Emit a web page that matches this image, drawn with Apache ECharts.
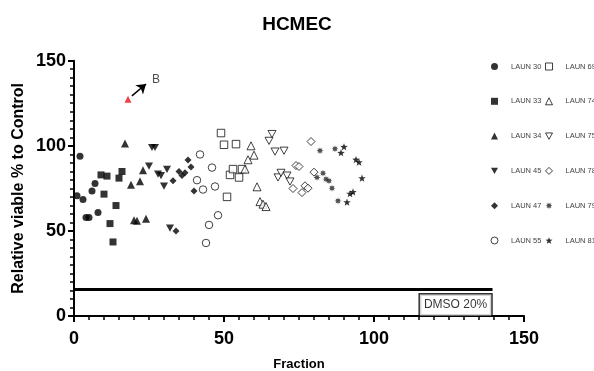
<!DOCTYPE html>
<html>
<head>
<meta charset="utf-8">
<title>HCMEC</title>
<script src="https://cdn.jsdelivr.net/npm/echarts@6/dist/echarts.min.js"></script>
<style>
    html, body { margin: 0; padding: 0; background: #fff; }
    #echarts1 { width: 594px; height: 371px; }
</style>
</head>
<body>
<div id="echarts1"></div>
<script>
// ------------------------------ 数据 -----------------------------------------
var seriesNames = ['LAUN 30', 'LAUN 33', 'LAUN 34', 'LAUN 45', 'LAUN 47', 'LAUN 55',
                   'LAUN 69', 'LAUN 74', 'LAUN 75', 'LAUN 78', 'LAUN 79', 'LAUN 81'];

var laun30 = [[1, 70.6], [2, 93.9], [3, 68.4], [4, 57.8], [5, 57.8], [6, 73.4], [7, 77.8], [8, 60.8]];
var laun33 = [[9, 82.9], [10, 71.6], [11, 82.2], [12, 54.3], [13, 43.5], [14, 64.9], [15, 81], [16, 84.9]];
var laun34 = [[17, 101.4], [19, 77.1], [20, 56.3], [21, 55.9], [22, 79.2], [23, 85.7], [24, 57.2]];
var laun45 = [[25, 88.1], [26, 99], [27, 99], [28, 83.4], [29, 82.5], [30, 76.3], [31, 86.1], [32, 51.6]];
var laun47 = [[33, 79.4], [34, 50], [35, 84.9], [36, 82.5], [37, 84.1], [38, 91.6], [39, 87.5], [40, 73.4]];
var laun55 = [[41, 79.8], [42, 94.9], [43, 74.3], [44, 42.9], [45, 53.5], [46, 87.2], [47, 76.1], [48, 59.2]];
var laun69 = [[49, 107.5], [50, 100.6], [51, 70], [52, 82.9], [53, 86.3], [54, 101], [55, 81.4], [56, 86.3]];
var laun74 = [[57, 86.3], [58, 91.8], [59, 100], [60, 94.5], [61, 75.9], [62, 67.2], [63, 65.7], [64, 64.3]];
var laun75 = [[65, 102.9], [66, 106.9], [67, 96.6], [68, 81.4], [69, 84.1], [70, 97.1], [71, 82.5], [72, 79]];
var laun78 = [[73, 74.9], [74, 88.4], [75, 87.8], [76, 72.5], [77, 76.5], [78, 75.1], [79, 102.5], [80, 84.5]];
var laun79 = [[81, 81.4], [82, 97.1], [83, 83.9], [84, 80.4], [85, 79.4], [86, 75.1], [87, 98.2], [88, 67.6]];
var laun81 = [[89, 95.9], [90, 99.4], [91, 66.9], [92, 71.9], [93, 72.9], [94, 91.9], [95, 90.4], [96, 81]];

// 标注点 B (LAUN 34 第18组分)
var pointB = [[18, 127.3]];
var arrowFrom = [19.3, 129.3];
var arrowTo = [24, 136.3];
var labelB = [[27.3, 138.7]];

// DMSO 20% 参考线
var dmsoLine = [[0, 15.5], [139.5, 15.5]];
var dmsoLabel = [[127.2, 6.5]];

var xTicks = [0, 150, 50];   // min, max, interval
var yTicks = [0, 150, 50];

// ------------------------------ 符号 -----------------------------------------
function starPath(points, inner) {
    var d = '';
    for (var i = 0; i < points * 2; i++) {
        var r = (i % 2 === 0) ? 1 : inner;
        var a = Math.PI * i / points - Math.PI / 2;
        d += (i === 0 ? 'M' : 'L') + (r * Math.cos(a)).toFixed(3) + ',' + (r * Math.sin(a)).toFixed(3);
    }
    return 'path://' + d + 'Z';
}
var downTriangle = 'path://M0,0L2,0L1,1.8Z';

var FONT = 'Liberation Sans, Arial, sans-serif';
var openStyle = { color: '#fff', borderColor: '#111', borderWidth: 1 };
var fillStyle = { color: '#000' };

var symbolDefs = [
    { data: laun30, symbol: 'circle', size: 7, style: fillStyle },
    { data: laun33, symbol: 'rect', size: 7, style: fillStyle },
    { data: laun34, symbol: 'triangle', size: 8, style: fillStyle },
    { data: laun45, symbol: downTriangle, size: 8, style: fillStyle },
    { data: laun47, symbol: 'diamond', size: 7, style: fillStyle },
    { data: laun55, symbol: 'circle', size: 7.5, style: openStyle },
    { data: laun69, symbol: 'rect', size: 7.5, style: openStyle },
    { data: laun74, symbol: 'triangle', size: 8, style: openStyle },
    { data: laun75, symbol: downTriangle, size: 8, style: openStyle },
    { data: laun78, symbol: 'diamond', size: 8, style: openStyle },
    { data: laun79, symbol: starPath(8, 0.5), size: 7, style: { color: '#222' } },
    { data: laun81, symbol: starPath(5, 0.42), size: 7.5, style: fillStyle }
];

var series = [];
symbolDefs.forEach(function (d, i) {
    series.push({
        name: seriesNames[i],
        type: 'scatter',
        data: d.data,
        symbol: d.symbol,
        symbolSize: d.size,
        symbolKeepAspect: true,
        itemStyle: d.style,
        z: 3
    });
});

// DMSO 线
series.push({
    name: 'DMSO',
    type: 'line',
    data: dmsoLine,
    symbol: 'none',
    silent: true,
    lineStyle: { color: '#000', width: 3 },
    z: 2
});
// DMSO 标签框
series.push({
    name: 'DMSO label',
    type: 'scatter',
    data: dmsoLabel,
    symbolSize: 0,
    silent: true,
    label: {
        show: true,
        position: 'inside',
        formatter: 'DMSO 20%',
        fontFamily: FONT,
        fontSize: 12,
        color: '#000',
        backgroundColor: '#fff',
        borderColor: '#000',
        borderWidth: 1.5,
        padding: [5, 4, 4, 4]
    },
    z: 4
});
// 红色点 B 及箭头
series.push({
    name: 'B',
    type: 'scatter',
    data: pointB,
    symbol: 'triangle',
    symbolSize: 7,
    itemStyle: { color: '#e8141a' },
    silent: true,
    markLine: {
        silent: true,
        symbol: ['none', 'arrow'],
        symbolSize: 9,
        label: { show: false },
        lineStyle: { color: '#000', width: 1.5, type: 'solid' },
        data: [[{ coord: arrowFrom }, { coord: arrowTo }]]
    },
    z: 4
});
series.push({
    name: 'B label',
    type: 'scatter',
    data: labelB,
    symbolSize: 0,
    silent: true,
    label: {
        show: true,
        position: 'inside',
        formatter: 'B',
        fontFamily: FONT,
        fontSize: 12,
        color: '#222'
    }
});

// ------------------------------ 图表 -----------------------------------------
var chartDom = document.getElementById('echarts1');
var myChart = echarts.init(chartDom);
var option;

var legendCommon = {
    orient: 'vertical',
    top: 62.5,
    padding: 0,
    itemWidth: 7,
    itemHeight: 7,
    itemGap: 26.8,
    selectedMode: false,
    itemStyle: { borderWidth: 1 },
    textStyle: { fontFamily: FONT, fontSize: 7.5, color: '#444', lineHeight: 8, padding: [0, 0, 0, 8] }
};

option = {
    animation: false,
    backgroundColor: '#fff',
    title: {
        text: 'HCMEC',
        left: 'center',
        top: 10,
        textStyle: { fontFamily: FONT, fontSize: 19, fontWeight: 'bold', color: '#000' }
    },
    legend: [
        Object.assign({ left: 490.5, data: seriesNames.slice(0, 6) }, legendCommon),
        Object.assign({ left: 545, data: seriesNames.slice(6) }, legendCommon)
    ],
    grid: { left: 74, right: 70, top: 60.7, bottom: 55, containLabel: false, outerBoundsMode: 'none' },
    xAxis: {
        type: 'value',
        min: xTicks[0],
        max: xTicks[1],
        interval: xTicks[2],
        name: 'Fraction',
        nameLocation: 'middle',
        nameGap: 42,
        nameMoveOverlap: false,
        nameTextStyle: { fontFamily: FONT, fontSize: 13, fontWeight: 'bold', color: '#000' },
        axisLine: { show: true, onZero: false, lineStyle: { color: '#000', width: 2 } },
        axisTick: { show: true, length: 6, lineStyle: { color: '#000', width: 2 } },
        minorTick: { show: true, splitNumber: 10, length: 4, lineStyle: { color: '#000', width: 1.5 } },
        axisLabel: { fontFamily: FONT, fontSize: 18, fontWeight: 'bold', color: '#000', margin: 14 },
        splitLine: { show: false }
    },
    yAxis: {
        type: 'value',
        min: yTicks[0],
        max: yTicks[1],
        interval: yTicks[2],
        name: 'Relative viable % to Control',
        nameLocation: 'middle',
        nameGap: 47,
        nameMoveOverlap: false,
        nameTextStyle: { fontFamily: FONT, fontSize: 16, fontWeight: 'bold', color: '#000' },
        axisLine: { show: true, onZero: false, lineStyle: { color: '#000', width: 2 } },
        axisTick: { show: true, length: 6, lineStyle: { color: '#000', width: 2 } },
        minorTick: { show: true, splitNumber: 10, length: 4, lineStyle: { color: '#000', width: 1.5 } },
        axisLabel: { fontFamily: FONT, fontSize: 18, fontWeight: 'bold', color: '#000', margin: 8 },
        splitLine: { show: false }
    },
    series: series
};

option && myChart.setOption(option);

window.onresize = function () {
    myChart.resize();
};
</script>
</body>
</html>
